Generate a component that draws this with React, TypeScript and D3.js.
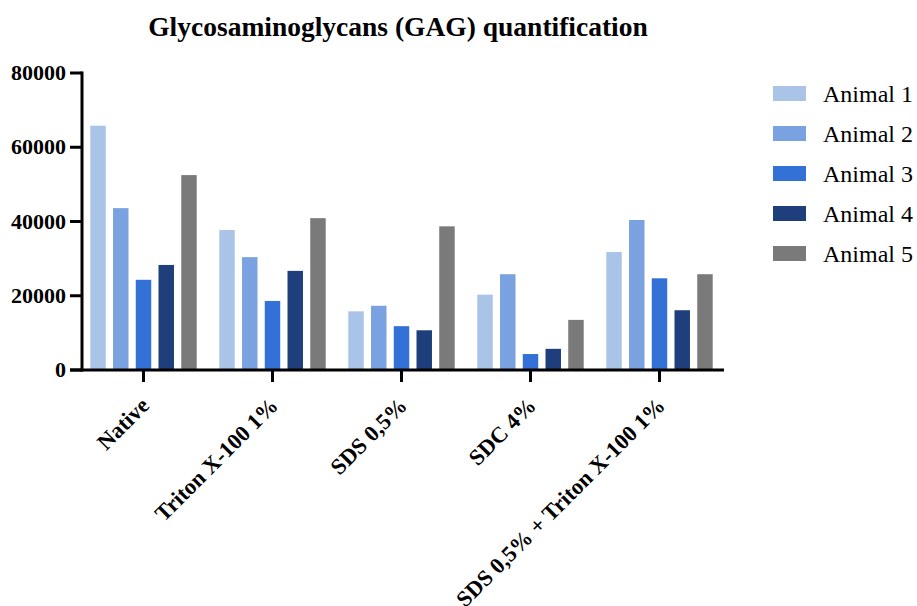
import React from "react";
import * as d3 from "d3";

const categories = ["Native", "Triton X-100 1%", "SDS 0,5%", "SDC 4%", "SDS 0,5% + Triton X-100 1%"];
const seriesNames = ["Animal 1", "Animal 2", "Animal 3", "Animal 4", "Animal 5"];
const animal1 = [65800, 37700, 15800, 20300, 31800];
const animal2 = [43600, 30400, 17300, 25800, 40400];
const animal3 = [24300, 18600, 11800, 4300, 24700];
const animal4 = [28300, 26700, 10700, 5700, 16100];
const animal5 = [52500, 40900, 38700, 13500, 25800];
const seriesValues = [animal1, animal2, animal3, animal4, animal5];
const colors = ["#a9c4e7", "#7aa1e0", "#3371d6", "#1e3f7b", "#7a7a7a"];
const yTicks = [0, 20000, 40000, 60000, 80000];

export default function App() {
  const W = 917, H = 606;
  const x0 = d3.scaleBand<string>().domain(categories).range([79, 724]).paddingInner(0).paddingOuter(0);
  const groupFrac = 0.825;
  const x1 = d3.scaleBand<string>().domain(seriesNames).range([0, x0.bandwidth() * groupFrac]).paddingInner(0.32).paddingOuter(0);
  const groupOffset = (x0.bandwidth() - x0.bandwidth() * groupFrac) / 2;
  const y = d3.scaleLinear().domain([0, 80000]).range([370, 73]);
  const font = "'Liberation Serif', 'Times New Roman', serif";
  return (
    <svg width={W} height={H} style={{ position: "absolute", left: 0, top: 0 }} fontFamily={font}>
      <rect width={W} height={H} fill="#fff" />
      <text x={398} y={36} textAnchor="middle" fontSize={27.5} fontWeight="bold">
        Glycosaminoglycans (GAG) quantification
      </text>
      {seriesValues.map((vals, si) =>
        vals.map((v, ci) => (
          <rect
            key={`${si}-${ci}`}
            x={(x0(categories[ci]) as number) + groupOffset + (x1(seriesNames[si]) as number)}
            y={y(v)}
            width={x1.bandwidth()}
            height={y(0) - y(v)}
            fill={colors[si]}
          />
        ))
      )}
      {/* Y axis */}
      <line x1={82} x2={82} y1={71.5} y2={371.5} stroke="#000" strokeWidth={3} />
      {yTicks.map((t) => (
        <g key={t}>
          <line x1={70} x2={82} y1={y(t)} y2={y(t)} stroke="#000" strokeWidth={3} />
          <text x={66} y={y(t) + 7} textAnchor="end" fontSize={22} fontWeight="bold">
            {t}
          </text>
        </g>
      ))}
      {/* X axis */}
      <line x1={70} x2={724} y1={370} y2={370} stroke="#000" strokeWidth={3} />
      {categories.map((c) => {
        const cx = (x0(c) as number) + x0.bandwidth() / 2;
        return (
          <g key={c}>
            <line x1={cx} x2={cx} y1={370} y2={382} stroke="#000" strokeWidth={3} />
            <text
              transform={`translate(${cx + 7},${407}) rotate(-45)`}
              textAnchor="end"
              fontSize={22.5}
              fontWeight="bold"
            >
              {c}
            </text>
          </g>
        );
      })}
      {/* Legend */}
      {seriesNames.map((n, i) => (
        <g key={n} transform={`translate(773,${86 + i * 40})`}>
          <rect x={0} y={0} width={33} height={15} fill={colors[i]} />
          <text x={50} y={16} fontSize={24}>
            {n}
          </text>
        </g>
      ))}
    </svg>
  );
}
